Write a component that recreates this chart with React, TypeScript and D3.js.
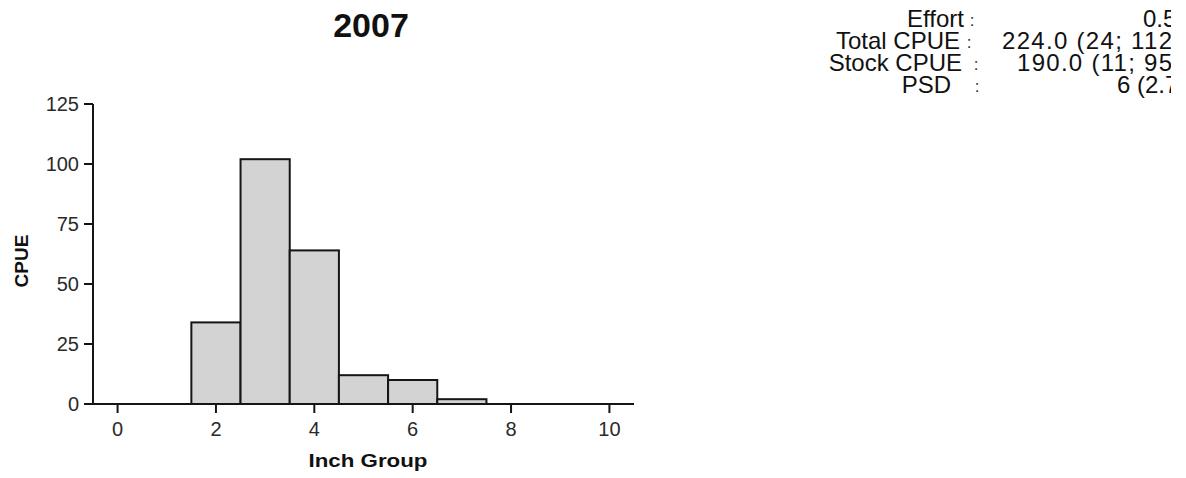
import React from "react";
import * as d3 from "d3";

// Catch per unit effort by inch group, 2007 sample
const inchGroups = [0, 1, 2, 3, 4, 5, 6, 7, 8, 9, 10];
const cpueValues = [0, 0, 34, 102, 64, 12, 10, 2, 0, 0, 0];
const yTicks = [0, 25, 50, 75, 100, 125];
const xTicks = [0, 2, 4, 6, 8, 10];
const title = "2007";

// Summary statistics table (value column is cut by the panel edge)
const statLabels = ["Effort", "Total CPUE", "Stock CPUE", "PSD"];
const statValues = ["0.5", "224.0 (24; 112", "190.0 (11; 95", "6 (2.7"];

const W = 1186;
const H = 478;
const FONT = "'Liberation Sans', Arial, Helvetica, sans-serif";

// table layout: label right edges, colon positions, value starts, fitted widths, baselines
const labelEnd = [964, 960, 962, 951];
const colonX = [972, 969, 976, 977];
const valueX = [1143, 1002, 1017, 1117];
const valueFit: (number | null)[] = [null, 170, 155, null];
const rowY = [27, 49, 71, 93];
const clipRight = 1171;

export default function App() {
  const x = d3.scaleLinear().domain([-0.5, 10.5]).range([93, 634]);
  const y = d3.scaleLinear().domain([0, 125]).range([404, 104]);
  const bars = inchGroups
    .map((g, i) => ({ g, v: cpueValues[i] }))
    .filter((d) => d.v > 0);

  return (
    <div style={{ position: "absolute", left: 0, top: 0 }}>
      <svg width={W} height={H} style={{ display: "block", background: "#fff" }}>
        <defs>
          <clipPath id="valClip">
            <rect x={985} y={0} width={clipRight - 985} height={120} />
          </clipPath>
        </defs>

        <text x={371} y={37} textAnchor="middle" fontFamily={FONT} fontWeight="bold" fontSize={34} fill="#111">
          {title}
        </text>

        {bars.map((d) => (
          <rect
            key={d.g}
            x={x(d.g - 0.5)}
            y={y(d.v)}
            width={x(d.g + 0.5) - x(d.g - 0.5)}
            height={y(0) - y(d.v)}
            fill="#d3d3d3"
            stroke="#151515"
            strokeWidth={2}
          />
        ))}

        {/* y axis */}
        <line x1={x(-0.5)} x2={x(-0.5)} y1={y(125)} y2={y(0)} stroke="#151515" strokeWidth={2} />
        {yTicks.map((t) => (
          <g key={t}>
            <line x1={x(-0.5) - 9} x2={x(-0.5)} y1={y(t)} y2={y(t)} stroke="#151515" strokeWidth={2} />
            <text x={79} y={y(t) + 7} textAnchor="end" fontFamily={FONT} fontSize={20} fill="#2a2a2a">
              {t}
            </text>
          </g>
        ))}

        {/* x axis */}
        <line x1={x(-0.5)} x2={x(10.5)} y1={y(0)} y2={y(0)} stroke="#151515" strokeWidth={2} />
        {xTicks.map((t) => (
          <g key={t}>
            <line x1={x(t)} x2={x(t)} y1={y(0)} y2={y(0) + 9} stroke="#151515" strokeWidth={2} />
            <text x={x(t)} y={436} textAnchor="middle" fontFamily={FONT} fontSize={20} fill="#2a2a2a">
              {t}
            </text>
          </g>
        ))}

        <text x={368} y={467} textAnchor="middle" fontFamily={FONT} fontWeight="bold" fontSize={19} textLength={119} lengthAdjust="spacingAndGlyphs" fill="#111">
          Inch Group
        </text>
        <text transform="translate(28,261) rotate(-90)" textAnchor="middle" fontFamily={FONT} fontWeight="bold" fontSize={19} fill="#111">
          CPUE
        </text>

        {statLabels.map((s, i) => (
          <g key={s}>
            <text x={labelEnd[i]} y={rowY[i]} textAnchor="end" fontFamily={FONT} fontSize={24} fill="#111">
              {s}
            </text>
            <text x={colonX[i]} y={rowY[i] - 1} textAnchor="middle" fontFamily={FONT} fontSize={17} fill="#333">
              :
            </text>
            <text
              x={valueX[i]}
              y={rowY[i]}
              clipPath="url(#valClip)"
              fontFamily={FONT}
              fontSize={24}
              fill="#111"
              {...(valueFit[i] ? { textLength: valueFit[i] as number, lengthAdjust: "spacing" } : {})}
            >
              {statValues[i]}
            </text>
          </g>
        ))}
      </svg>
    </div>
  );
}
